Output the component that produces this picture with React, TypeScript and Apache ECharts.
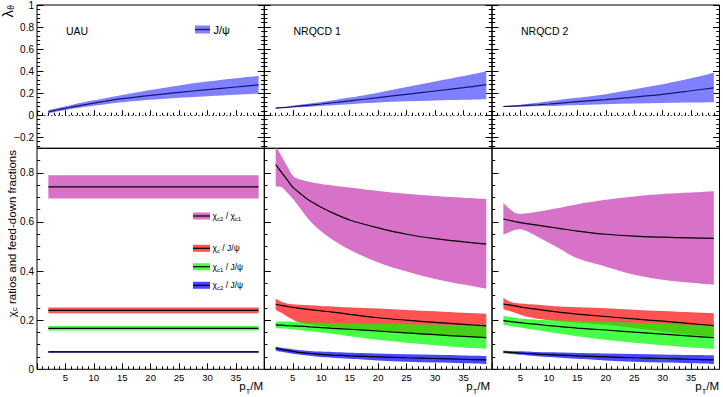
import React, { useEffect, useRef } from "react";
import * as echarts from "echarts";

// ---------------- data ----------------
const PT = [2, 3, 4, 5, 6, 8, 10, 12, 15, 20, 25, 30, 35, 39];
const PT_FLAT = [2, 39];

// top row: lambda_theta of J/psi
const UAU_LTH_MID = [0.03, 0.042, 0.053, 0.063, 0.073, 0.092, 0.11, 0.127, 0.15, 0.18, 0.207, 0.232, 0.256, 0.275];
const UAU_LTH_HI = [0.045, 0.058, 0.07, 0.082, 0.093, 0.115, 0.135, 0.155, 0.183, 0.228, 0.27, 0.305, 0.335, 0.355];
const UAU_LTH_LO = [0.018, 0.028, 0.038, 0.047, 0.056, 0.072, 0.087, 0.1, 0.118, 0.14, 0.158, 0.173, 0.186, 0.195];

const N1_LTH_MID = [0.064, 0.068, 0.072, 0.077, 0.082, 0.092, 0.102, 0.113, 0.13, 0.16, 0.19, 0.22, 0.25, 0.278];
const N1_LTH_HI = [0.068, 0.074, 0.08, 0.086, 0.093, 0.106, 0.12, 0.135, 0.16, 0.205, 0.255, 0.305, 0.355, 0.4];
const N1_LTH_LO = [0.06, 0.063, 0.066, 0.069, 0.072, 0.078, 0.084, 0.09, 0.1, 0.115, 0.126, 0.134, 0.14, 0.145];

const N2_LTH_MID = [0.079, 0.081, 0.083, 0.086, 0.089, 0.095, 0.102, 0.11, 0.123, 0.142, 0.165, 0.19, 0.222, 0.248];
const N2_LTH_HI = [0.083, 0.087, 0.091, 0.096, 0.102, 0.113, 0.127, 0.14, 0.158, 0.19, 0.235, 0.28, 0.335, 0.385];
const N2_LTH_LO = [0.075, 0.076, 0.077, 0.078, 0.08, 0.082, 0.084, 0.087, 0.092, 0.1, 0.106, 0.111, 0.115, 0.118];

// bottom row, UAU (flat)
const UAU_R21_MID = [0.743, 0.743];
const UAU_R21_HI = [0.79, 0.79];
const UAU_R21_LO = [0.696, 0.696];
const UAU_RC_MID = [0.24, 0.24];
const UAU_RC_HI = [0.252, 0.252];
const UAU_RC_LO = [0.228, 0.228];
const UAU_F1_MID = [0.167, 0.167];
const UAU_F1_HI = [0.176, 0.176];
const UAU_F1_LO = [0.158, 0.158];
const UAU_F2_MID = [0.071, 0.071];
const UAU_F2_HI = [0.075, 0.075];
const UAU_F2_LO = [0.067, 0.067];

// bottom row, NRQCD 1
const N1_R21_MID = [0.834, 0.803, 0.772, 0.742, 0.722, 0.686, 0.66, 0.637, 0.608, 0.576, 0.55, 0.532, 0.519, 0.51];
const N1_R21_HI = [0.91, 0.869, 0.828, 0.789, 0.775, 0.763, 0.755, 0.749, 0.74, 0.726, 0.715, 0.706, 0.699, 0.694];
const N1_R21_LO = [0.745, 0.742, 0.72, 0.695, 0.665, 0.605, 0.562, 0.528, 0.487, 0.435, 0.398, 0.368, 0.345, 0.328];
const N1_RC_MID = [0.265, 0.26, 0.256, 0.252, 0.249, 0.243, 0.238, 0.233, 0.224, 0.21, 0.2, 0.191, 0.183, 0.177];
const N1_RC_HI = [0.287, 0.275, 0.268, 0.265, 0.263, 0.261, 0.258, 0.256, 0.252, 0.248, 0.242, 0.236, 0.23, 0.226];
const N1_RC_LO = [0.242, 0.23, 0.215, 0.203, 0.192, 0.183, 0.176, 0.171, 0.163, 0.153, 0.146, 0.14, 0.135, 0.131];
const N1_F1_MID = [0.181, 0.18, 0.178, 0.177, 0.176, 0.173, 0.17, 0.167, 0.163, 0.156, 0.148, 0.141, 0.134, 0.129];
const N1_F1_HI = [0.194, 0.195, 0.195, 0.194, 0.192, 0.191, 0.19, 0.189, 0.187, 0.185, 0.183, 0.181, 0.179, 0.177];
const N1_F1_LO = [0.167, 0.166, 0.165, 0.163, 0.16, 0.155, 0.15, 0.145, 0.135, 0.12, 0.108, 0.098, 0.089, 0.083];
const N1_F2_MID = [0.086, 0.081, 0.077, 0.073, 0.069, 0.065, 0.061, 0.058, 0.055, 0.051, 0.047, 0.044, 0.041, 0.038];
const N1_F2_HI = [0.092, 0.088, 0.085, 0.082, 0.079, 0.075, 0.072, 0.07, 0.067, 0.064, 0.061, 0.059, 0.056, 0.054];
const N1_F2_LO = [0.076, 0.071, 0.067, 0.063, 0.06, 0.055, 0.05, 0.047, 0.043, 0.036, 0.031, 0.028, 0.025, 0.022];

// bottom row, NRQCD 2
const N2_R21_MID = [0.612, 0.607, 0.602, 0.597, 0.593, 0.587, 0.58, 0.573, 0.563, 0.55, 0.542, 0.538, 0.535, 0.533];
const N2_R21_HI = [0.677, 0.655, 0.638, 0.633, 0.635, 0.642, 0.65, 0.658, 0.672, 0.69, 0.704, 0.714, 0.72, 0.725];
const N2_R21_LO = [0.548, 0.558, 0.567, 0.57, 0.563, 0.54, 0.515, 0.49, 0.452, 0.418, 0.385, 0.365, 0.352, 0.344];
const N2_RC_MID = [0.266, 0.262, 0.258, 0.254, 0.25, 0.244, 0.238, 0.232, 0.225, 0.215, 0.205, 0.196, 0.186, 0.178];
const N2_RC_HI = [0.29, 0.277, 0.27, 0.268, 0.266, 0.263, 0.259, 0.256, 0.253, 0.249, 0.243, 0.237, 0.232, 0.228];
const N2_RC_LO = [0.245, 0.238, 0.23, 0.222, 0.215, 0.206, 0.2, 0.196, 0.19, 0.181, 0.168, 0.153, 0.14, 0.133];
const N2_F1_MID = [0.198, 0.195, 0.192, 0.19, 0.187, 0.183, 0.178, 0.174, 0.168, 0.16, 0.151, 0.143, 0.135, 0.129];
const N2_F1_HI = [0.217, 0.214, 0.21, 0.207, 0.205, 0.202, 0.2, 0.199, 0.197, 0.194, 0.19, 0.186, 0.181, 0.177];
const N2_F1_LO = [0.181, 0.177, 0.173, 0.17, 0.166, 0.159, 0.152, 0.145, 0.135, 0.12, 0.108, 0.098, 0.089, 0.083];
const N2_F2_MID = [0.071, 0.069, 0.068, 0.066, 0.065, 0.062, 0.06, 0.058, 0.055, 0.051, 0.047, 0.044, 0.041, 0.038];
const N2_F2_HI = [0.076, 0.075, 0.074, 0.073, 0.072, 0.07, 0.069, 0.068, 0.066, 0.064, 0.062, 0.06, 0.058, 0.057];
const N2_F2_LO = [0.065, 0.063, 0.061, 0.059, 0.057, 0.053, 0.05, 0.047, 0.043, 0.036, 0.031, 0.028, 0.025, 0.022];

// tick labels
const X_LABELS = [5, 10, 15, 20, 25, 30, 35];
const TOP_Y_LABELS = [-0.2, 0, 0.2, 0.4, 0.6, 0.8, 1];
const BOTTOM_Y_LABELS = [0, 0.2, 0.4, 0.6, 0.8];
const TOP_Y_MINOR: number[] = [];
for (let k = -7; k <= 24; k++) if (k % 5 !== 0) TOP_Y_MINOR.push(Math.round(k * 4) / 100);
const BOTTOM_Y_MINOR: number[] = [];
for (let k = 1; k <= 17; k++) if (k % 4 !== 0) BOTTOM_Y_MINOR.push(Math.round(k * 5) / 100);

const PANEL_NAMES = ["UAU", "NRQCD 1", "NRQCD 2"];

// ---------------- styles ----------------
const FONT = '"Liberation Sans", Arial, Helvetica, sans-serif';
const JPSI_BAND = "#7f7fff";
const JPSI_LINE = "#161670";
const MAGENTA = "rgb(216,114,200)";
const RED = "rgba(255,0,0,0.68)";
const GREEN = "rgba(0,255,0,0.72)";
const BLUE = "rgba(0,0,255,0.72)";

const COL_LEFT = [37, 264.3, 492];
const COL_WIDTH = [227.3, 227.7, 227.5];
const ROW_TOP = [5, 148.3];
const ROW_HEIGHT = [143.3, 221];

type Band = { lo: number[]; hi: number[]; mid: number[]; color: string; line: string };

const TOP_BANDS: { xs: number[]; band: Band }[] = [
  { xs: PT, band: { lo: UAU_LTH_LO, hi: UAU_LTH_HI, mid: UAU_LTH_MID, color: JPSI_BAND, line: JPSI_LINE } },
  { xs: PT, band: { lo: N1_LTH_LO, hi: N1_LTH_HI, mid: N1_LTH_MID, color: JPSI_BAND, line: JPSI_LINE } },
  { xs: PT, band: { lo: N2_LTH_LO, hi: N2_LTH_HI, mid: N2_LTH_MID, color: JPSI_BAND, line: JPSI_LINE } },
];

const BOTTOM_BANDS: { xs: number[]; bands: Band[] }[] = [
  {
    xs: PT_FLAT,
    bands: [
      { lo: UAU_R21_LO, hi: UAU_R21_HI, mid: UAU_R21_MID, color: MAGENTA, line: "#000" },
      { lo: UAU_RC_LO, hi: UAU_RC_HI, mid: UAU_RC_MID, color: RED, line: "#000" },
      { lo: UAU_F1_LO, hi: UAU_F1_HI, mid: UAU_F1_MID, color: GREEN, line: "#000" },
      { lo: UAU_F2_LO, hi: UAU_F2_HI, mid: UAU_F2_MID, color: BLUE, line: "#000" },
    ],
  },
  {
    xs: PT,
    bands: [
      { lo: N1_R21_LO, hi: N1_R21_HI, mid: N1_R21_MID, color: MAGENTA, line: "#000" },
      { lo: N1_RC_LO, hi: N1_RC_HI, mid: N1_RC_MID, color: RED, line: "#000" },
      { lo: N1_F1_LO, hi: N1_F1_HI, mid: N1_F1_MID, color: GREEN, line: "#000" },
      { lo: N1_F2_LO, hi: N1_F2_HI, mid: N1_F2_MID, color: BLUE, line: "#000" },
    ],
  },
  {
    xs: PT,
    bands: [
      { lo: N2_R21_LO, hi: N2_R21_HI, mid: N2_R21_MID, color: MAGENTA, line: "#000" },
      { lo: N2_RC_LO, hi: N2_RC_HI, mid: N2_RC_MID, color: RED, line: "#000" },
      { lo: N2_F1_LO, hi: N2_F1_HI, mid: N2_F1_MID, color: GREEN, line: "#000" },
      { lo: N2_F2_LO, hi: N2_F2_HI, mid: N2_F2_MID, color: BLUE, line: "#000" },
    ],
  },
];

function fmtY(v: number) {
  return v < 0 ? "\u2212" + String(-v) : String(v);
}

// Catmull-Rom style cubic segments through screen points (rendering only)
function curveSegments(pts: number[][]) {
  let d = "";
  const n = pts.length;
  for (let i = 0; i < n - 1; i++) {
    const p0 = pts[Math.max(i - 1, 0)];
    const p1 = pts[i];
    const p2 = pts[i + 1];
    const p3 = pts[Math.min(i + 2, n - 1)];
    const c1x = p1[0] + (p2[0] - p0[0]) / 6;
    const c1y = p1[1] + (p2[1] - p0[1]) / 6;
    const c2x = p2[0] - (p3[0] - p1[0]) / 6;
    const c2y = p2[1] - (p3[1] - p1[1]) / 6;
    d += ` C${c1x} ${c1y} ${c2x} ${c2y} ${p2[0]} ${p2[1]}`;
  }
  return d;
}

function buildOption() {
  const grids: any[] = [];
  const xAxes: any[] = [];
  const yAxes: any[] = [];
  const series: any[] = [];

  const addBand = (xs: number[], b: Band, xi: number, yi: number) => {
    series.push({
      type: "custom",
      xAxisIndex: xi,
      yAxisIndex: yi,
      silent: true,
      clip: true,
      data: xs.map((x, i) => [x, b.lo[i], b.hi[i]]),
      encode: { x: 0, y: [1, 2] },
      renderItem: (params: any, api: any) => {
        if (params.dataIndex !== 0) return null;
        const up: number[][] = [];
        const dn: number[][] = [];
        for (let i = 0; i < xs.length; i++) up.push(api.coord([xs[i], b.hi[i]]));
        for (let i = xs.length - 1; i >= 0; i--) dn.push(api.coord([xs[i], b.lo[i]]));
        const d =
          `M${up[0][0]} ${up[0][1]}` +
          curveSegments(up) +
          ` L${dn[0][0]} ${dn[0][1]}` +
          curveSegments(dn) +
          " Z";
        return { type: "path", shape: { pathData: d }, style: { fill: b.color } };
      },
    });
  };
  const addLine = (xs: number[], b: Band, xi: number, yi: number, extra: any = {}) => {
    series.push({
      type: "line",
      xAxisIndex: xi,
      yAxisIndex: yi,
      symbol: "none",
      smooth: 0.3,
      silent: true,
      clip: true,
      data: xs.map((x, i) => [x, b.mid[i]]),
      lineStyle: { color: b.line, width: 1.2 },
      ...extra,
    });
  };

  for (let row = 0; row < 2; row++) {
    for (let c = 0; c < 3; c++) {
      const gi = grids.length;
      grids.push({
        left: COL_LEFT[c],
        width: COL_WIDTH[c],
        top: ROW_TOP[row],
        height: ROW_HEIGHT[row],
        show: true,
        borderColor: "#000",
        borderWidth: 1,
        backgroundColor: "transparent",
        containLabel: false,
        outerBoundsMode: "none",
      });
      const tickLen = row === 0 ? 5 : 6;
      const xi = xAxes.length;
      xAxes.push({
        gridIndex: gi,
        type: "value",
        min: 0,
        max: 40,
        interval: 5,
        axisLine: { show: false },
        splitLine: { show: false },
        axisTick: { show: true, inside: true, length: tickLen, lineStyle: { color: "#000", width: 1 } },
        minorTick: { show: true, splitNumber: 5, length: tickLen / 2, lineStyle: { color: "#000", width: 1 } },
        minorSplitLine: { show: false },
        axisLabel: {
          show: row === 1,
          customValues: X_LABELS,
          fontSize: 9.5,
          fontFamily: FONT,
          color: "#000",
          margin: 3,
        },
      });
      const yMin = row === 0 ? -0.3 : 0;
      const yMax = row === 0 ? 1.0 : 0.9;
      const majors = row === 0 ? TOP_Y_LABELS : BOTTOM_Y_LABELS;
      const minors = row === 0 ? TOP_Y_MINOR : BOTTOM_Y_MINOR;
      const sides = row === 0 ? ["left", "right"] : ["left"];
      const yi = yAxes.length;
      sides.forEach((side) => {
        yAxes.push({
          gridIndex: gi,
          type: "value",
          position: side,
          min: yMin,
          max: yMax,
          axisLine: { show: false },
          splitLine: { show: false },
          axisTick: { show: true, inside: true, length: 6.5, customValues: majors, lineStyle: { color: "#000", width: 1 } },
          axisLabel: {
            show: side === "left" && c === 0,
            customValues: majors,
            formatter: (v: number) => fmtY(v),
            fontSize: 10,
            fontFamily: FONT,
            color: "#000",
            margin: 3,
          },
        });
        yAxes.push({
          gridIndex: gi,
          type: "value",
          position: side,
          min: yMin,
          max: yMax,
          axisLine: { show: false },
          splitLine: { show: false },
          axisTick: { show: true, inside: true, length: 3.2, customValues: minors, lineStyle: { color: "#000", width: 1 } },
          axisLabel: { show: false },
        });
      });

      if (row === 0) {
        const t = TOP_BANDS[c];
        addBand(t.xs, t.band, xi, yi);
        addLine(t.xs, t.band, xi, yi, {
          markLine: {
            silent: true,
            symbol: ["none", "none"],
            label: { show: false },
            lineStyle: { color: "#000", type: [1.5, 2], width: 0.8 },
            data: [{ yAxis: 0 }],
          },
        });
      } else {
        const bset = BOTTOM_BANDS[c];
        bset.bands.forEach((b) => addBand(bset.xs, b, xi, yi));
        bset.bands.forEach((b) => addLine(bset.xs, b, xi, yi));
      }
    }
  }

  const txt = (x: number, y: number, text: string, fontSize: number) => ({
    type: "text",
    x,
    y,
    z: 10,
    style: { text, fontSize, fontFamily: FONT, fill: "#000", verticalAlign: "middle", align: "left" },
  });

  const richMS = (m: number, s: number, pad: number, sLH: number) => ({
    m: { fontSize: m, fontFamily: FONT, fill: "#000", lineHeight: m + 2 },
    s: { fontSize: s, fontFamily: FONT, fill: "#000", lineHeight: sLH, padding: [pad, 0, 0, 0] },
  });

  const graphics: any[] = [];
  const labelX = [66, 293.5, 521];
  PANEL_NAMES.forEach((n, i) => graphics.push(txt(labelX[i], 30.5, n, 10.5)));

  // top legend
  graphics.push({ type: "rect", z: 10, shape: { x: 195, y: 25.5, width: 15, height: 8 }, style: { fill: JPSI_BAND } });
  graphics.push({ type: "line", z: 11, shape: { x1: 195, y1: 29.5, x2: 210, y2: 29.5 }, style: { stroke: JPSI_LINE, lineWidth: 1.3 } });
  graphics.push(txt(213.5, 29.5, "J/ψ", 11));

  // bottom legend
  const legendItems = [
    { text: "{m|χ}{s|c2}{m| / χ}{s|c1}", color: MAGENTA, cy: 216 },
    { text: "{m|χ}{s|c}{m| / J/ψ}", color: RED, cy: 248.3 },
    { text: "{m|χ}{s|c1}{m| / J/ψ}", color: GREEN, cy: 266.7 },
    { text: "{m|χ}{s|c2}{m| / J/ψ}", color: BLUE, cy: 285.3 },
  ];
  legendItems.forEach((it) => {
    graphics.push({ type: "rect", z: 10, shape: { x: 193, y: it.cy - 3.5, width: 17, height: 7 }, style: { fill: it.color } });
    graphics.push({ type: "line", z: 11, shape: { x1: 193, y1: it.cy, x2: 210, y2: it.cy }, style: { stroke: "#000", lineWidth: 1.2 } });
    graphics.push({
      type: "text",
      x: 212.5,
      y: it.cy,
      z: 10,
      style: { text: it.text, align: "left", verticalAlign: "middle", rich: richMS(8.5, 6, 6, 8) },
    });
  });

  // axis titles
  graphics.push({
    type: "text",
    x: 7,
    y: 5,
    z: 10,
    rotation: Math.PI / 2,
    style: {
      text: "{m|λ}{s|ϑ}",
      align: "right",
      verticalAlign: "middle",
      rich: richMS(15, 9, 7, 10),
    },
  });
  graphics.push({
    type: "text",
    x: 11.5,
    y: 150,
    z: 10,
    rotation: Math.PI / 2,
    style: {
      text: "{m|χ}{s|c}{m| ratios and feed-down fractions}",
      align: "right",
      verticalAlign: "middle",
      rich: richMS(11.5, 8, 6, 9),
    },
  });
  [263, 490, 719].forEach((x) => {
    graphics.push({
      type: "text",
      x,
      y: 386,
      z: 10,
      style: {
        text: "{m|p}{s|T}{m|/M}",
        align: "right",
        verticalAlign: "middle",
        rich: richMS(11.5, 7.5, 10, 8),
      },
    });
  });

  return {
    animation: false,
    backgroundColor: "#fff",
    grid: grids,
    xAxis: xAxes,
    yAxis: yAxes,
    series,
    graphic: graphics,
  };
}

export default function App() {
  const ref = useRef<HTMLDivElement>(null);
  useEffect(() => {
    if (!ref.current) return;
    const chart = echarts.init(ref.current, null, { renderer: "svg" });
    chart.setOption(buildOption() as any);
    return () => chart.dispose();
  }, []);
  return (
    <div
      ref={ref}
      style={{ position: "absolute", left: 0, top: 0, width: 723, height: 397, background: "#fff" }}
    />
  );
}
